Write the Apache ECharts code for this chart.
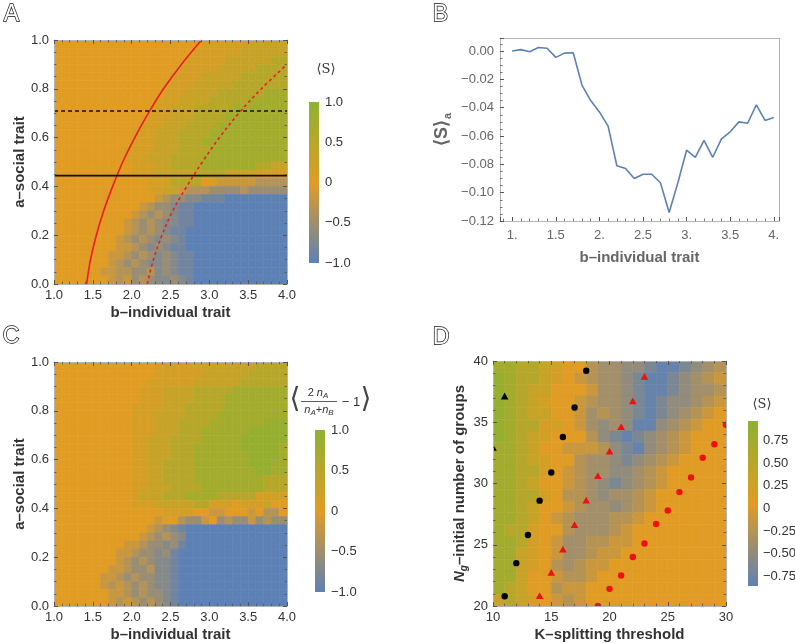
<!DOCTYPE html>
<html><head><meta charset="utf-8">
<script src="https://cdn.jsdelivr.net/npm/echarts/dist/echarts.min.js"></script>
<style>html,body{margin:0;padding:0;background:#fff}#c{width:795px;height:643px}</style>
</head><body><div id="c"></div>
<script>
// ---------------- DATA ----------------
// Panel A / C heatmaps: 30 x 30 cells, rows from a=1 (top) to a=0 (bottom),
// run-length coded: letter = level, number = repeat count.
const A_bRange = [1, 4];
const A_aRange = [0, 1];
const A_rows = [
  "o19y6l5","o18y6l6","o17y5l6v2","o16y5l5v4","o15y4l5v6","o14y4l5v7",
  "o14y3l4v6G3","o13y3l4v5G5","o12y3l3v5G7","o12y3l3v4G8","o11y3l3v4G9",
  "o10y3l3v4G10","o10y3l3v3G11","o9y4l3v4G10","o9y3l3v4G11","o10y3l2v4G7v2l2",
  "o10y3l5v4l4y4","o12y3v4o1y1t5h4","o12y2l2t1h3g4h1g5","o13t1h1g2s2b3B8",
  "o11t1h1g2s1b2B12","o10t1h1g1h1g1s1b2B12","o9t1h1g1h1g1s2b2B12","o9t1h1g1h1g1s1b2B13",
  "o8t1h1g1h1g1s1g1s1b1B13","o8t2h1g1s1g1s1b2B13","o7t2h1g1h1g1s1g1s1b2B12",
  "o7t1h1g1h1g1s2g1s1b2B12","o6t2h2g2h1s1g1s1b2B12","o7t1h1t1g1h1g1s2g1s1b1B12"
];
const C_rows = [
  "o13y7l6v4","o13y6l6v5","o12y6l6v6","o11y3l4v5G7","o11y3l4v4G8","o10y4l3v5G8",
  "o10y3l4v4G9","o10y3l3v4G7F3","o10y3l3v3G6F5","o10y2l3v4G5F6","o10y2l3v3G6F5G1",
  "o10y2l3v3G7F4G1","o10y2l2v4G7F3G2","o10y2l2v4G8F2G2","o10y2l2v4G9v3","o10y2l3v4G8v3",
  "o10y1l3v3G4v5y2l1y1","o10y3l5v2y3o1y3l1o2","o14y4o2t2o3t1o1h2o1",
  "o13t1o2h1g2t1o1g1h1g2t1g1h1g2","o12t1h1g1s1b1B13","o11t1h1g1h1g1s1B13",
  "o9t2h1g2s1g1b1B13","o8t2h1g2s1g1b1B14","o8t1h1g1h1g1s2b1B14","o7t2h1g2h1s2b1B14",
  "o6t2h1g1h1g2s2b1B14","o6t1h1t1h1g1h1g1s2b1B14","o7t2h1g1h1g2s1b1B14",
  "o7t1h1t1h1g1h1g1s1b1B14"
];
const LEVELS_AC = {B:-1.0,b:-0.85,s:-0.7,g:-0.55,h:-0.35,t:-0.18,o:0,y:0.15,l:0.32,v:0.52,G:0.74,F:0.9};
const AC_scale = [-1, 1];

// Panel D heatmap: 20 columns (K) x 21 rows (N), rows from N=40 (top) to N=20.
const D_KRange = [10, 30];
const D_NRange = [20, 40];
const D_rows = [
  "GGvvlyoohggssbBBbsgh",
  "FGvvlyothggsbBBbsght",
  "FGvlloootggsbBBbsggh",
  "FGvlyoothggsbBbssght",
  "FGvllootghgsbBbsghto",
  "FGvvyyotgsgsBBsghtoo",
  "FGvlyooohsbBbsghtooo",
  "GGvloottthsbBsghtooo",
  "GGvlyoohggsbsghtoooo",
  "GGvvyothggssghtooooo",
  "GGvloothgsbsghtooooo",
  "GGvvyohhgsgghtoooooo",
  "GGvloothggsghtoooooo",
  "GGvlothggghhtooooooo",
  "Gvvyoohggghtoooooooo",
  "GGvyotgghhttoooooooo",
  "GGlyotgghttooooooooo",
  "GGlyohghttoooooooooo",
  "GGloothhtooooooooooo",
  "Gvloohttoooooooooooo",
  "lvlyothtoooooooooooo"
];
const LEVELS_D = {B:-0.8,b:-0.65,s:-0.5,g:-0.38,h:-0.25,t:-0.1,o:0.05,y:0.2,l:0.35,v:0.55,G:0.75,F:0.9};
const D_scale = [-0.86, 0.97];

// Panel B line
const B_b = [1.0,1.1,1.2,1.3,1.4,1.5,1.6,1.7,1.8,1.9,2.0,2.1,2.2,2.3,2.4,2.5,2.6,2.7,2.8,2.9,3.0,3.1,3.2,3.3,3.4,3.5,3.6,3.7,3.8,3.9,4.0];
const B_S = [0.000,0.001,-0.0005,0.0025,0.002,-0.0045,-0.0015,-0.0012,-0.024,-0.035,-0.043,-0.053,-0.081,-0.083,-0.090,-0.087,-0.087,-0.093,-0.114,-0.093,-0.070,-0.075,-0.063,-0.075,-0.062,-0.057,-0.050,-0.051,-0.038,-0.049,-0.047];

// Panel A overlay curves
const redSolid_a = [0, 0.1, 0.2, 0.3, 0.4, 0.5, 0.6, 0.7, 0.8, 0.9, 1.0];
const redSolid_b = [1.42, 1.47, 1.545, 1.64, 1.755, 1.885, 2.04, 2.215, 2.41, 2.64, 2.90];
const redDash_a = [0, 0.1, 0.2, 0.3, 0.4, 0.5, 0.6, 0.7, 0.8, 0.9];
const redDash_b = [2.20, 2.28, 2.39, 2.53, 2.71, 2.91, 3.13, 3.38, 3.67, 4.0];
const blackSolid_a = 0.444;
const blackDash_a = 0.709;

// Panel D markers [K, N]
const blackCircles = [[11,20.8],[12,23.5],[13,25.8],[14,28.6],[15,30.9],[16,33.8],[17,36.2],[18,39.2]];
const blackTriangles = [[10,32.9],[11,37.1]];
const redTriangles = [[14,20.8],[15,22.7],[16,24.6],[17,26.6],[18,28.6],[19,30.6],[20,32.6],[21,34.6],[22,36.7],[23,38.7]];
const redCircles = [[19,20.0],[20,21.4],[21,22.5],[22,24.0],[23,25.1],[24,26.7],[25,27.8],[26,29.3],[27,30.5],[28,32.1],[29,33.2],[30,34.8]];

// ---------------- BUILD ----------------
const BLUE = '#5E81B5', ORANGE = '#E19C24', GREEN = '#8FB131';
const FONT = '"Liberation Sans", Arial, Helvetica, sans-serif';
const LBL = '#333', FRAME = '#b4b4b4', TICK = '#555';
const MINUS = '\u2212';

function decodeRow(s, n) {
  const out = []; const re = /([A-Za-z])(\d*)/g; let m;
  while ((m = re.exec(s))) { const k = m[2] === '' ? 1 : parseInt(m[2], 10); for (let i = 0; i < k; i++) out.push(m[1]); }
  while (out.length < n) out.push(out[out.length - 1]);
  return out.slice(0, n);
}
function buildCells(rows, nCols, xr, yr, levels) {
  const nRows = rows.length, cells = [];
  const dx = (xr[1] - xr[0]) / nCols, dy = (yr[1] - yr[0]) / nRows;
  rows.forEach((row, r) => {
    decodeRow(row, nCols).forEach((ch, c) => {
      const x0 = xr[0] + c * dx, y1 = yr[1] - r * dy;
      cells.push([x0, y1 - dy, levels[ch], x0 + dx, y1]);
    });
  });
  return cells;
}
const A_cells = buildCells(A_rows, 30, A_bRange, A_aRange, LEVELS_AC);
const C_cells = buildCells(C_rows, 30, A_bRange, A_aRange, LEVELS_AC);
const D_cells = buildCells(D_rows, 20, D_KRange, D_NRange, LEVELS_D);

function heatItem(params, api) {
  const p0 = api.coord([api.value(0), api.value(4)]);
  const p1 = api.coord([api.value(3), api.value(1)]);
  const col = api.visual('color');
  return { type: 'rect', shape: { x: p0[0], y: p0[1], width: p1[0] - p0[0], height: p1[1] - p0[1] },
           style: { fill: col, stroke: col, lineWidth: 0.6 } };
}
function barItem(params, api) {
  const p0 = api.coord([0, api.value(1)]);
  const p1 = api.coord([1, api.value(0)]);
  return { type: 'rect', shape: { x: p0[0], y: p0[1], width: p1[0] - p0[0], height: p1[1] - p0[1] },
    style: { fill: new echarts.graphic.LinearGradient(0, 0, 0, 1, [
      { offset: 0, color: GREEN }, { offset: 0.5, color: ORANGE }, { offset: 1, color: BLUE }]) } };
}
function markerItem(shape, color) {
  return function (params, api) {
    const p = api.coord([api.value(0), api.value(1)]);
    if (shape === 'circle') return { type: 'circle', shape: { cx: p[0], cy: p[1], r: 3.2 }, style: { fill: color } };
    const s = 3.8;
    return { type: 'polygon', shape: { points: [[p[0], p[1] - s * 1.05], [p[0] + s, p[1] + s * 0.75], [p[0] - s, p[1] + s * 0.75]] }, style: { fill: color } };
  };
}

function frameAxis(gi, pos, min, max, interval, minorN, showLabel, fmt, extra) {
  return Object.assign({
    type: 'value', gridIndex: gi, position: pos, min: min, max: max, interval: interval, z: 10,
    axisLine: { show: true, onZero: false, lineStyle: { color: FRAME, width: 1 } },
    axisTick: { show: true, inside: true, length: 4, lineStyle: { color: TICK, width: 1 } },
    minorTick: { show: true, splitNumber: minorN, length: 2.5, lineStyle: { color: TICK, width: 0.8 } },
    splitLine: { show: false }, minorSplitLine: { show: false },
    axisLabel: { show: showLabel, color: LBL, fontSize: 13, fontFamily: FONT, margin: 5, formatter: fmt }
  }, extra || {});
}
function plainFrame(gi, pos, min, max) {
  return { type: 'value', gridIndex: gi, position: pos, min: min, max: max, z: 10,
    axisLine: { show: true, onZero: false, lineStyle: { color: FRAME, width: 1 } },
    axisTick: { show: false }, axisLabel: { show: false }, splitLine: { show: false } };
}
function barAxisX(gi) {
  return { type: 'value', gridIndex: gi, min: 0, max: 1, show: false };
}
function barAxisY(gi, min, max, interval, fmt, extra) {
  return Object.assign({
    type: 'value', gridIndex: gi, position: 'right', min: min, max: max, interval: interval,
    axisLine: { show: false }, axisTick: { show: false }, splitLine: { show: false },
    axisLabel: { color: LBL, fontSize: 13, fontFamily: FONT, margin: 6, formatter: fmt }
  }, extra || {});
}
const f1 = v => v.toFixed(1);
const fBar1 = v => Math.abs(v) < 1e-9 ? '0' : (v < 0 ? MINUS : '') + Math.abs(v).toFixed(1);
const fBar2 = v => Math.abs(v) < 1e-9 ? '0' : (v < 0 ? MINUS : '') + Math.abs(v).toFixed(2);
const fBx = v => Math.abs(v - Math.round(v)) < 1e-9 ? Math.round(v) + '.' : String(+v.toFixed(2));
const fBy = v => (v < -1e-9 ? MINUS : '') + Math.abs(v).toFixed(2);

const nameStyle = { color: LBL, fontSize: 15, fontWeight: 'bold', fontFamily: FONT };

const grids = [
  { left: 54, top: 40, width: 233, height: 244 },
  { left: 309, top: 102, width: 10, height: 161 },
  { left: 500, top: 38, width: 279, height: 183 },
  { left: 54, top: 362, width: 233, height: 244 },
  { left: 315, top: 430, width: 10, height: 162 },
  { left: 493, top: 361, width: 233, height: 245 },
  { left: 748, top: 421, width: 10, height: 165 }
].map(g => Object.assign({ outerBoundsMode: 'none', containLabel: false }, g));

const xAxes = [
  frameAxis(0, 'bottom', 1, 4, 0.5, 5, true, f1, { name: 'b\u2013individual trait', nameLocation: 'middle', nameGap: 21, nameTextStyle: nameStyle }),
  frameAxis(0, 'top', 1, 4, 0.5, 5, false, f1),
  barAxisX(1),
  frameAxis(2, 'bottom', 0.86, 4.06, null, 5, true, fBx, {
    minInterval: 0.5, maxInterval: 0.5,
    axisLabel: { color: '#666', fontSize: 13, fontFamily: FONT, margin: 8, formatter: fBx, showMinLabel: false, showMaxLabel: false },
    name: 'b\u2013individual trait', nameLocation: 'middle', nameGap: 29,
    nameTextStyle: Object.assign({}, nameStyle, { color: '#666' }) }),
  frameAxis(3, 'bottom', 1, 4, 0.5, 5, true, f1, { name: 'b\u2013individual trait', nameLocation: 'middle', nameGap: 21, nameTextStyle: nameStyle }),
  frameAxis(3, 'top', 1, 4, 0.5, 5, false, f1),
  barAxisX(4),
  frameAxis(5, 'bottom', 10, 30, 5, 5, true, null, { name: 'K\u2013splitting threshold', nameLocation: 'middle', nameGap: 21, nameTextStyle: nameStyle }),
  frameAxis(5, 'top', 10, 30, 5, 5, false, null),
  barAxisX(6),
  plainFrame(2, 'top', 0.86, 4.06)
];
const yAxes = [
  frameAxis(0, 'left', 0, 1, 0.2, 4, true, f1, { name: 'a\u2013social trait', nameLocation: 'middle', nameGap: 25, nameTextStyle: nameStyle }),
  frameAxis(0, 'right', 0, 1, 0.2, 4, false, f1),
  barAxisY(1, -1, 1, 0.5, fBar1),
  frameAxis(2, 'left', -0.12, 0.0092, null, 4, true, fBy, {
    minInterval: 0.02, maxInterval: 0.02,
    axisLabel: { color: '#666', fontSize: 13, fontFamily: FONT, margin: 6, formatter: fBy, showMaxLabel: false },
    name: '{s|\u27E8S\u27E9}{a|a}', nameLocation: 'middle', nameGap: 47,
    nameTextStyle: { color: '#666', fontFamily: FONT, rich: {
      s: { fontSize: 18, fontWeight: 'bold', color: '#666', fontFamily: FONT },
      a: { fontSize: 11, fontWeight: 'bold', color: '#666', fontFamily: FONT, padding: [10, 0, 0, 1] } } } }),
  frameAxis(3, 'left', 0, 1, 0.2, 4, true, f1, { name: 'a\u2013social trait', nameLocation: 'middle', nameGap: 25, nameTextStyle: nameStyle }),
  frameAxis(3, 'right', 0, 1, 0.2, 4, false, f1),
  barAxisY(4, -1, 1, 0.5, fBar1),
  frameAxis(5, 'left', 20, 40, 5, 5, true, null, {
    name: '{n|N}{g|g}{t|\u2013initial number of groups}', nameLocation: 'middle', nameGap: 24,
    nameTextStyle: { color: LBL, fontFamily: FONT, rich: {
      n: { fontSize: 15, fontWeight: 'bold', fontStyle: 'italic', color: LBL, fontFamily: FONT },
      g: { fontSize: 10, fontWeight: 'bold', fontStyle: 'italic', color: LBL, fontFamily: FONT, padding: [8, 0, 0, 0] },
      t: { fontSize: 15, fontWeight: 'bold', color: LBL, fontFamily: FONT } } } }),
  frameAxis(5, 'right', 20, 40, 5, 5, false, null),
  barAxisY(6, D_scale[0], D_scale[1], null, fBar2, {
    minInterval: 0.25, maxInterval: 0.25,
    axisLabel: { color: LBL, fontSize: 13, fontFamily: FONT, margin: 5, formatter: fBar2, showMinLabel: false, showMaxLabel: false } }),
  plainFrame(2, 'right', -0.12, 0.0092)
];

const zipPts = (xs, ys) => xs.map((x, i) => [x, ys[i]]);
const series = [
  { type: 'custom', name: 'A', xAxisIndex: 0, yAxisIndex: 0, renderItem: heatItem, data: A_cells, z: 1, clip: true },
  { type: 'line', xAxisIndex: 0, yAxisIndex: 0, data: zipPts(redSolid_b, redSolid_a), smooth: 0.4, symbol: 'none', clip: true, z: 3,
    lineStyle: { color: '#ee1c1c', width: 1.6 } },
  { type: 'line', xAxisIndex: 0, yAxisIndex: 0, data: zipPts(redDash_b, redDash_a), smooth: 0.4, symbol: 'none', clip: true, z: 3,
    lineStyle: { color: '#ee1c1c', width: 1.6, type: [3, 3] } },
  { type: 'line', xAxisIndex: 0, yAxisIndex: 0, data: [[A_bRange[0], blackSolid_a], [A_bRange[1], blackSolid_a]], symbol: 'none', z: 3,
    lineStyle: { color: '#111', width: 1.6 } },
  { type: 'line', xAxisIndex: 0, yAxisIndex: 0, data: [[A_bRange[0], blackDash_a], [A_bRange[1], blackDash_a]], symbol: 'none', z: 3,
    lineStyle: { color: '#111', width: 1.6, type: [4, 3] } },
  { type: 'custom', xAxisIndex: 2, yAxisIndex: 2, renderItem: barItem, data: [[AC_scale[0], AC_scale[1]]] },
  { type: 'line', xAxisIndex: 3, yAxisIndex: 3, data: zipPts(B_b, B_S), symbol: 'none', z: 3,
    lineStyle: { color: BLUE, width: 1.6 } },
  { type: 'custom', name: 'C', xAxisIndex: 4, yAxisIndex: 4, renderItem: heatItem, data: C_cells, z: 1, clip: true },
  { type: 'custom', xAxisIndex: 6, yAxisIndex: 6, renderItem: barItem, data: [[AC_scale[0], AC_scale[1]]] },
  { type: 'custom', name: 'D', xAxisIndex: 7, yAxisIndex: 7, renderItem: heatItem, data: D_cells, z: 1, clip: true },
  { type: 'custom', xAxisIndex: 7, yAxisIndex: 7, renderItem: markerItem('circle', '#000'), data: blackCircles, z: 4, clip: true },
  { type: 'custom', xAxisIndex: 7, yAxisIndex: 7, renderItem: markerItem('tri', '#000'), data: blackTriangles, z: 4, clip: true },
  { type: 'custom', xAxisIndex: 7, yAxisIndex: 7, renderItem: markerItem('tri', '#ee1111'), data: redTriangles, z: 4, clip: true },
  { type: 'custom', xAxisIndex: 7, yAxisIndex: 7, renderItem: markerItem('circle', '#ee1111'), data: redCircles, z: 4, clip: true },
  { type: 'custom', xAxisIndex: 9, yAxisIndex: 9, renderItem: barItem, data: [[D_scale[0], D_scale[1]]] }
];

const vm = (idx, sc) => ({ type: 'continuous', show: false, seriesIndex: idx, dimension: 2, min: sc[0], max: sc[1],
  inRange: { color: [BLUE, ORANGE, GREEN] } });

function letter(t, x, y) {
  return { type: 'text', left: x, top: y, style: { text: t, font: '23px ' + FONT, fill: '#fff', stroke: '#111', lineWidth: 1.4 } };
}
function txt(t, x, y, size, extra) {
  return { type: 'text', x: x, y: y, style: Object.assign({ text: t, font: size + 'px ' + FONT, fill: LBL, textAlign: 'center', textVerticalAlign: 'middle' }, extra || {}) };
}
const serif = '"DejaVu Serif", "Liberation Serif", serif';
const graphics = [
  letter('A', 3, 2), letter('B', 432, 2), letter('C', 2, 324), letter('D', 432, 325),
  txt('\u27E8S\u27E9', 326, 70, 13, { font: '13px ' + serif }),
  txt('\u27E8S\u27E9', 762, 405, 13, { font: '13px ' + serif }),
  // C colour-bar title: < 2 nA / (nA + nB) - 1 >
  txt('\u27E8', 295, 400, 28, { font: '28px ' + serif, fill: '#444' }),
  txt('{r|2 }{i|n}{s|A}', 318, 393, 11, { rich: { r: { fontSize: 11, fill: '#333' }, i: { fontSize: 11, fontStyle: 'italic', fill: '#333' }, s: { fontSize: 8, fontStyle: 'italic', fill: '#333', padding: [5, 0, 0, 0] } } }),
  { type: 'line', shape: { x1: 301, y1: 401.5, x2: 337, y2: 401.5 }, style: { stroke: '#333', lineWidth: 0.8 } },
  txt('{i|n}{s|A}{r|+}{i|n}{s|B}', 319, 410, 11, { rich: { r: { fontSize: 11, fill: '#333' }, i: { fontSize: 11, fontStyle: 'italic', fill: '#333' }, s: { fontSize: 8, fontStyle: 'italic', fill: '#333', padding: [5, 0, 0, 0] } } }),
  txt(MINUS + ' 1', 351, 402, 13, { fill: '#333' }),
  txt('\u27E9', 366, 400, 28, { font: '28px ' + serif, fill: '#444' })
];

const chart = echarts.init(document.getElementById('c'), null, { renderer: 'canvas' });
chart.setOption({
  animation: false,
  backgroundColor: '#fff',
  textStyle: { fontFamily: FONT },
  grid: grids, xAxis: xAxes, yAxis: yAxes,
  visualMap: [vm(0, AC_scale), vm(7, AC_scale), vm(9, D_scale)],
  series: series,
  graphic: graphics
});
</script></body></html>
